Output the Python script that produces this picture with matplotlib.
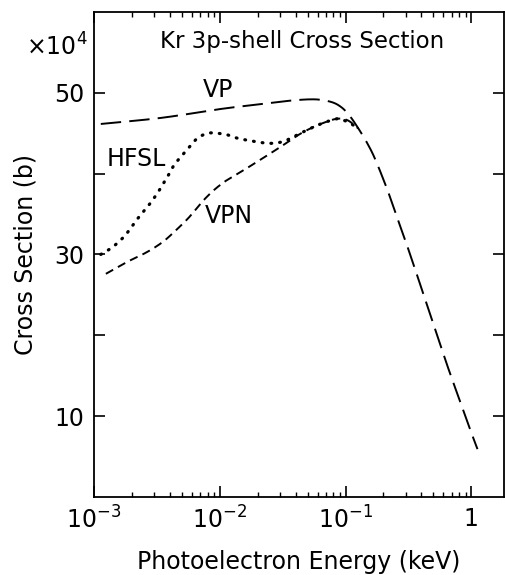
import numpy as np
import matplotlib.pyplot as plt
from matplotlib.ticker import FixedLocator, NullFormatter, LogLocator

# dados (energia em keV, secao de choque em 1e4 b)
e_vp = [0.00113, 0.0034, 0.0101, 0.0186, 0.0343, 0.0559, 0.0759, 0.0912,
        0.106, 0.124, 0.149, 0.173, 0.215, 0.258, 0.310, 0.373, 0.448,
        0.538, 0.646, 0.776, 0.933, 1.12]
s_vp = [46.15, 46.9, 48.0, 48.5, 49.0, 49.2, 48.9, 48.3,
        47.3, 45.8, 43.75, 41.7, 38.0, 34.5, 31.0, 27.3, 23.6,
        19.9, 16.2, 12.7, 9.2, 5.9]

e_hfsl = [0.00113, 0.00140, 0.00173, 0.00196, 0.00229, 0.00266, 0.00310,
          0.00350, 0.00396, 0.00434, 0.00491, 0.00571, 0.00666, 0.00800,
          0.00960, 0.0115, 0.0137, 0.0186, 0.0252, 0.0322, 0.0412, 0.0526,
          0.0671, 0.0859, 0.0970, 0.110, 0.126]
s_hfsl = [30.0, 30.9, 32.2, 33.3, 34.7, 35.9, 37.3,
          38.6, 40.0, 41.1, 42.1, 43.3, 44.4, 45.0,
          45.0, 44.8, 44.4, 44.0, 43.75, 44.0, 44.8, 45.6,
          46.3, 46.8, 46.6, 46.2, 45.6]

e_vpn = [0.00124, 0.00153, 0.00190, 0.00236, 0.00292, 0.00362, 0.00448,
         0.00554, 0.00646, 0.00752, 0.00903, 0.0109, 0.0126, 0.0165,
         0.0224, 0.0303, 0.0412, 0.0526, 0.0671, 0.0859, 0.104, 0.126]
s_vpn = [27.6, 28.4, 29.2, 29.9, 30.7, 31.7, 33.0,
         34.4, 35.6, 36.8, 38.0, 39.0, 39.6, 40.7,
         42.0, 43.3, 44.7, 45.6, 46.3, 46.8, 46.6, 45.6]

y_ticks = [10, 20, 30, 40, 50]
y_labels = ['10', '', '30', '', '50']
x_ticks = [1e-3, 1e-2, 1e-1, 1]
x_labels = ['$10^{-3}$', '$10^{-2}$', '$10^{-1}$', '1']

plt.rcParams['font.family'] = 'DejaVu Sans'
plt.rcParams['mathtext.fontset'] = 'dejavusans'

fig = plt.figure(figsize=(5.06, 5.75), dpi=100)
ax = fig.add_axes([0.186, 0.136, 0.810, 0.843])

def smooth(x, y):
    # curva suave por Catmull-Rom em log(x)
    lx = np.log10(x)
    xs, ys = [], []
    p = np.column_stack([lx, y])
    p = np.vstack([p[0] * 2 - p[1], p, p[-1] * 2 - p[-2]])
    s = np.linspace(0, 1, 12, endpoint=False)[:, None]
    for i in range(1, len(p) - 2):
        p0, p1, p2, p3 = p[i - 1], p[i], p[i + 1], p[i + 2]
        c = 0.5 * ((2 * p1) + (-p0 + p2) * s + (2 * p0 - 5 * p1 + 4 * p2 - p3) * s**2
                   + (-p0 + 3 * p1 - 3 * p2 + p3) * s**3)
        xs.append(c[:, 0]); ys.append(c[:, 1])
    xs.append([lx[-1]]); ys.append([y[-1]])
    return 10 ** np.concatenate(xs), np.concatenate(ys)

x, y = smooth(e_vp, s_vp)
ax.plot(x, y, color='black', lw=1.4, linestyle=(0, (10.5, 4.2)))
x, y = smooth(e_hfsl, s_hfsl)
ax.plot(x, y, color='black', lw=2.3, linestyle=(0, (0.25, 2.5)), dash_capstyle='round')
x, y = smooth(e_vpn, s_vpn)
ax.plot(x, y, color='black', lw=1.4, linestyle=(0, (4.3, 2.8)))

ax.set_xscale('log')
ax.set_xlim(1e-3, 10 ** 0.26)
ax.set_ylim(0, 60)

ax.xaxis.set_major_locator(FixedLocator(x_ticks))
ax.set_xticklabels(x_labels)
ax.xaxis.set_minor_locator(LogLocator(base=10, subs=np.arange(2, 10)))
ax.xaxis.set_minor_formatter(NullFormatter())
ax.yaxis.set_major_locator(FixedLocator(y_ticks))
ax.set_yticklabels(y_labels)

ax.tick_params(which='major', direction='in', length=8, width=1.2,
               top=True, right=True, labelsize=17, pad=7)
ax.tick_params(which='minor', direction='in', length=3.5, width=1.0,
               top=True, right=True)
for sp in ax.spines.values():
    sp.set_linewidth(1.3)

ax.set_xlabel('Photoelectron Energy (keV)', fontsize=17, labelpad=12)
ax.set_ylabel('Cross Section (b)', fontsize=17, labelpad=12)

ax.text(0.508, 0.963, 'Kr 3p-shell Cross Section', transform=ax.transAxes,
        ha='center', va='top', fontsize=16.5)
fig.text(0.113, 0.918, r'$\times10^4$', ha='center', va='center', fontsize=17)

ax.text(0.0097, 50.3, 'VP', ha='center', va='center', fontsize=17)
ax.text(0.00218, 41.8, 'HFSL', ha='center', va='center', fontsize=17)
ax.text(0.0119, 34.8, 'VPN', ha='center', va='center', fontsize=17)

fig.savefig('out.png', dpi=100)
